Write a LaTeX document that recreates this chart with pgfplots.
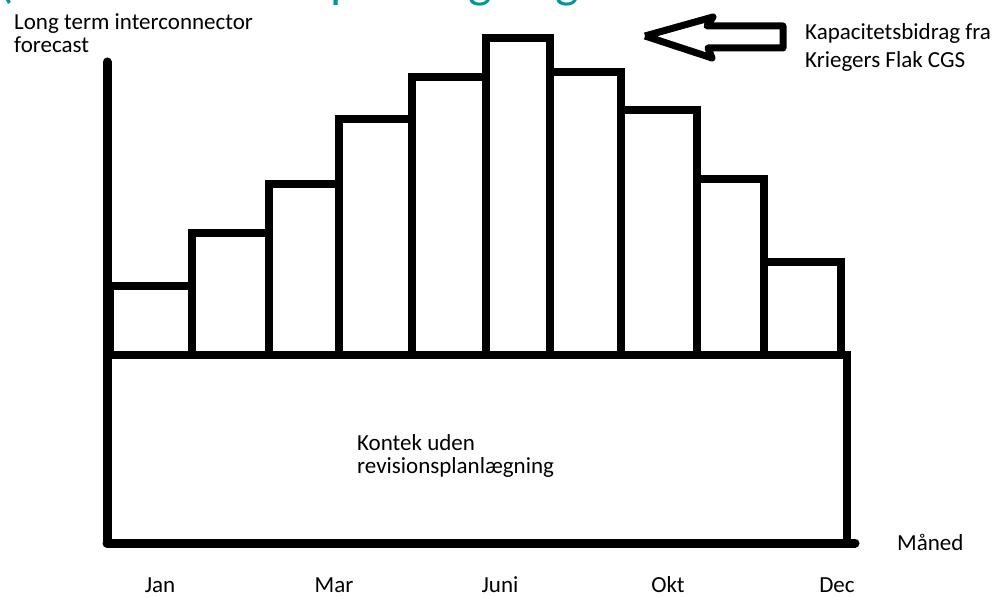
\documentclass[border=0pt]{standalone}
\usepackage{fontspec}
\setmainfont{Carlito}
\usepackage{pgfplots}
\pgfplotsset{compat=1.18}
\definecolor{teal1}{RGB}{0,150,155}
\newcommand{\lbl}{\fontsize{23bp}{27bp}\selectfont}
\begin{document}
\begin{tikzpicture}
\begin{axis}[
  width=1008bp, height=597bp, scale only axis,
  xmin=0, xmax=1008, ymin=-242, ymax=355,
  hide axis, clip=false,
]
% monthly capacity contribution (bars above the base level)
\addplot[ybar interval, draw=black, fill=none, line width=8.5bp, line join=miter]
  coordinates {(110,69) (192,122) (269,171) (339,236) (412,278) (486,317)
               (550,283) (621,245) (697,176) (764,93) (841,93)};
% base block (Kontek uden revisionsplanlægning)
\addplot[draw=black, line width=8.5bp, line join=miter]
  coordinates {(108,0) (847,0) (847,-188)};
% axes
\addplot[draw=black, line width=9bp, line cap=round] coordinates {(107,293) (107,-188)};
\addplot[draw=black, line width=9bp, line cap=round] coordinates {(107,-188) (855,-188)};
% arrow
\addplot[draw=black, line width=7bp, line join=round]
  coordinates {(645,319) (713,338) (707,329) (783,329) (783,307) (708,307) (712,297) (645,319)};
% texts
\node[anchor=base west, inner sep=0pt, overlay, text=teal1]
  at (axis cs:-2,357) {\fontsize{50bp}{60bp}\selectfont (Under revisionsplanlægning};
\node[anchor=base west, inner sep=0pt] at (axis cs:14,325) {\lbl Long term interconnector};
\node[anchor=base west, inner sep=0pt] at (axis cs:14,302) {\lbl forecast};
\node[anchor=base west, inner sep=0pt] at (axis cs:805,315) {\lbl Kapacitetsbidrag fra};
\node[anchor=base west, inner sep=0pt] at (axis cs:805,287) {\lbl Kriegers Flak CGS};
\node[anchor=base west, inner sep=0pt] at (axis cs:357,-95) {\lbl Kontek uden};
\node[anchor=base west, inner sep=0pt] at (axis cs:357,-118) {\lbl revisionsplanlægning};
\node[anchor=base west, inner sep=0pt] at (axis cs:897,-195) {\lbl Måned};
\node[anchor=base, inner sep=0pt] at (axis cs:160,-237) {\lbl Jan};
\node[anchor=base, inner sep=0pt] at (axis cs:334,-237) {\lbl Mar};
\node[anchor=base, inner sep=0pt] at (axis cs:500,-237) {\lbl Juni};
\node[anchor=base, inner sep=0pt] at (axis cs:668,-237) {\lbl Okt};
\node[anchor=base, inner sep=0pt] at (axis cs:837,-237) {\lbl Dec};
\end{axis}
\pgfresetboundingbox
\path (current axis.south west) rectangle (current axis.north east);
\end{tikzpicture}
\end{document}
